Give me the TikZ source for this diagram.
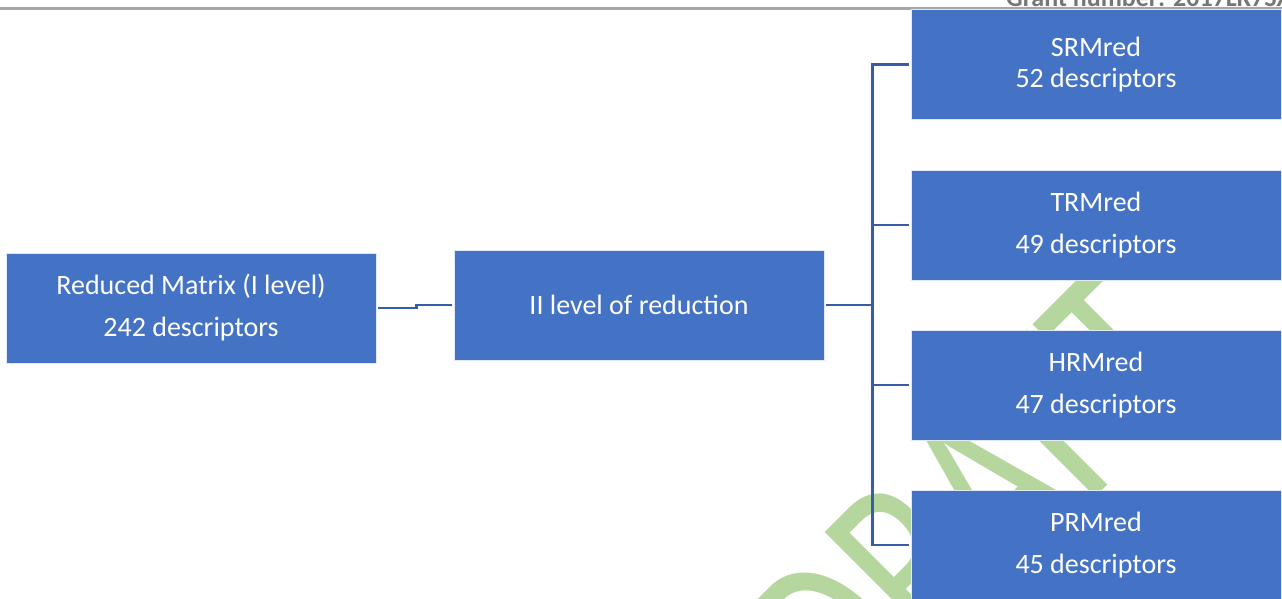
\documentclass[tikz,border=0pt]{standalone}
\usepackage{graphicx}
\usepackage{fontspec}
\setmainfont{Carlito}
\definecolor{boxblue}{HTML}{4472C4}
\definecolor{boxedge}{RGB}{225,232,246}
\definecolor{linkblue}{RGB}{56,93,168}
\definecolor{wmgreen}{RGB}{181,215,158}
\definecolor{hdrgrey}{RGB}{166,166,166}
\definecolor{grantgrey}{RGB}{118,118,118}
\begin{document}
\begin{tikzpicture}[x=1pt,y=-1pt,
  box/.style={draw=boxedge, line width=0.8pt, fill=boxblue, text=white,
    minimum width=370pt, minimum height=110pt, align=center, inner sep=0pt,
    font=\fontsize{28}{42}\selectfont},
  link/.style={draw=linkblue, line width=2.5pt}]
\useasboundingbox (0,0) rectangle (1282,598);
\clip (0,0) rectangle (1282,598);
\fill[white] (0,0) rectangle (1282,598);
% watermark
\node[rotate=45, anchor=base west, text=wmgreen, inner sep=0pt, outer sep=0pt,
  font=\fontsize{193}{193}\selectfont] (wm) at (849.5,744) {\scalebox{1}[1.35]{DRAFT}};
% header
\draw[hdrgrey, line width=3pt] (0,8) -- (1282,8);
\node[anchor=base west, text=grantgrey, inner sep=0pt,
  font=\bfseries\fontsize{26}{26}\selectfont] (grant) at (1006,6) {Grant number: 2017LK7SXK};
% boxes
\node[box] (red) at (191,308) {Reduced Matrix (I level)\\242 descriptors};
\node[box] (ii) at (639,305) {II level of reduction};
\node[box, font=\fontsize{28}{31}\selectfont] (srm) at (1096,64.5) {SRMred\\52 descriptors};
\node[box] (trm) at (1096,225) {TRMred\\49 descriptors};
\node[box] (hrm) at (1096,385) {HRMred\\47 descriptors};
\node[box] (prm) at (1096,545) {PRMred\\45 descriptors};
% connectors
\draw[link] ([xshift=2pt]red.east) -- ++(38,0) |- ([xshift=-2pt]ii.west);
\draw[link] ([xshift=2pt]ii.east) -- ++(46,0);
\draw[link] ([xshift=-2pt]srm.west) -- ++(-36,0) |- ([xshift=-2pt]prm.west);
\draw[link] ([xshift=-2pt]trm.west) -- ++(-36,0);
\draw[link] ([xshift=-2pt]hrm.west) -- ++(-36,0);
\end{tikzpicture}
\end{document}
